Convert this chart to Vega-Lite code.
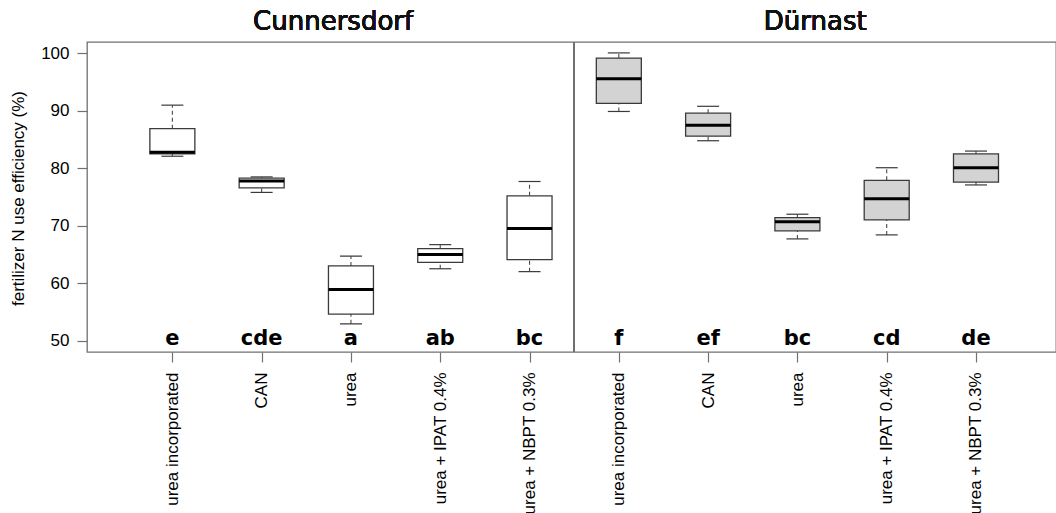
{
  "$schema": "https://vega.github.io/schema/vega-lite/v6.json",
  "autosize": "none",
  "padding": {"left": 87, "top": 42, "right": 0, "bottom": 161},
  "width": 969,
  "height": 310,
  "background": "white",
  "config": {
    "view": {"stroke": "#707070", "strokeWidth": 1.3},
    "font": "Liberation Sans",
    "axis": {"grid": false, "domain": false, "tickColor": "#707070", "tickWidth": 1.2, "labelColor": "black", "titleColor": "black", "labelFont": "Liberation Sans", "titleFont": "Liberation Sans", "titleFontWeight": "normal"}
  },
  "data": {"values": [
    {"site": "Cunnersdorf", "treatment": "urea incorporated", "pos": 1, "lo": 82.1, "q1": 82.5, "med": 82.8, "q3": 86.9, "hi": 91.0, "letter": "e"},
    {"site": "Cunnersdorf", "treatment": "CAN", "pos": 2, "lo": 75.8, "q1": 76.6, "med": 77.8, "q3": 78.3, "hi": 78.5, "letter": "cde"},
    {"site": "Cunnersdorf", "treatment": "urea", "pos": 3, "lo": 52.9, "q1": 54.6, "med": 58.9, "q3": 63.0, "hi": 64.7, "letter": "a"},
    {"site": "Cunnersdorf", "treatment": "urea + IPAT 0.4%", "pos": 4, "lo": 62.5, "q1": 63.6, "med": 65.0, "q3": 66.0, "hi": 66.7, "letter": "ab"},
    {"site": "Cunnersdorf", "treatment": "urea + NBPT 0.3%", "pos": 5, "lo": 62.0, "q1": 64.1, "med": 69.5, "q3": 75.2, "hi": 77.7, "letter": "bc"},
    {"site": "Dürnast", "treatment": "urea incorporated", "pos": 6, "lo": 89.9, "q1": 91.3, "med": 95.6, "q3": 99.2, "hi": 100.1, "letter": "f"},
    {"site": "Dürnast", "treatment": "CAN", "pos": 7, "lo": 84.8, "q1": 85.6, "med": 87.5, "q3": 89.6, "hi": 90.8, "letter": "ef"},
    {"site": "Dürnast", "treatment": "urea", "pos": 8, "lo": 67.7, "q1": 69.1, "med": 70.7, "q3": 71.4, "hi": 72.0, "letter": "bc"},
    {"site": "Dürnast", "treatment": "urea + IPAT 0.4%", "pos": 9, "lo": 68.4, "q1": 71.0, "med": 74.7, "q3": 77.9, "hi": 80.1, "letter": "cd"},
    {"site": "Dürnast", "treatment": "urea + NBPT 0.3%", "pos": 10, "lo": 77.1, "q1": 77.6, "med": 80.1, "q3": 82.5, "hi": 83.0, "letter": "de"}
  ]},
  "layer": [
    {
      "mark": {"type": "rule", "strokeDash": [4, 3], "color": "#4a4a4a", "strokeWidth": 1.1},
      "encoding": {
        "x": {"field": "pos", "type": "quantitative",
          "scale": {"domain": [0.1, 10.84], "nice": false, "zero": false},
          "axis": {"values": [1, 2, 3, 4, 5, 6, 7, 8, 9, 10], "title": null, "tickSize": 10, "labelAngle": -90, "labelPadding": 10, "labelFontSize": 17, "labelExpr": "['urea incorporated','CAN','urea','urea + IPAT 0.4%','urea + NBPT 0.3%'][(datum.value - 1) % 5]"}},
        "y": {"field": "lo", "type": "quantitative",
          "scale": {"domain": [48, 102], "nice": false, "zero": false},
          "axis": {"values": [50, 60, 70, 80, 90, 100], "title": "fertilizer N use efficiency (%)", "tickSize": 10, "labelPadding": 8, "labelFontSize": 17, "titleFontSize": 17, "titleX": -60, "titleY": 156}},
        "y2": {"field": "q1"}
      }
    },
    {
      "mark": {"type": "rule", "strokeDash": [4, 3], "color": "#4a4a4a", "strokeWidth": 1.1},
      "encoding": {
        "x": {"field": "pos", "type": "quantitative"},
        "y": {"field": "q3", "type": "quantitative"},
        "y2": {"field": "hi"}
      }
    },
    {
      "mark": {"type": "tick", "orient": "horizontal", "size": 22, "thickness": 1.2, "color": "#3a3a3a", "opacity": 1},
      "encoding": {
        "x": {"field": "pos", "type": "quantitative"},
        "y": {"field": "lo", "type": "quantitative"}
      }
    },
    {
      "mark": {"type": "tick", "orient": "horizontal", "size": 22, "thickness": 1.2, "color": "#3a3a3a", "opacity": 1},
      "encoding": {
        "x": {"field": "pos", "type": "quantitative"},
        "y": {"field": "hi", "type": "quantitative"}
      }
    },
    {
      "mark": {"type": "bar", "orient": "vertical", "size": 45, "stroke": "#3a3a3a", "strokeWidth": 1.3, "opacity": 1},
      "encoding": {
        "x": {"field": "pos", "type": "quantitative"},
        "y": {"field": "q1", "type": "quantitative"},
        "y2": {"field": "q3"},
        "fill": {"field": "site", "type": "nominal", "legend": null,
          "scale": {"domain": ["Cunnersdorf", "Dürnast"], "range": ["#ffffff", "#d3d3d3"]}}
      }
    },
    {
      "mark": {"type": "tick", "orient": "horizontal", "size": 45, "thickness": 3, "color": "black", "opacity": 1},
      "encoding": {
        "x": {"field": "pos", "type": "quantitative"},
        "y": {"field": "med", "type": "quantitative"}
      }
    },
    {
      "mark": {"type": "text", "font": "DejaVu Sans", "fontWeight": "bold", "fontSize": 21, "baseline": "alphabetic", "align": "center", "color": "black"},
      "encoding": {
        "x": {"field": "pos", "type": "quantitative"},
        "y": {"datum": 49.25},
        "text": {"field": "letter"}
      }
    },
    {
      "mark": {"type": "rule", "color": "#707070", "strokeWidth": 1.3},
      "encoding": {"x": {"datum": 5.5}}
    },
    {
      "mark": {"type": "text", "font": "DejaVu Sans", "fontWeight": "normal", "fontSize": 26, "baseline": "alphabetic", "align": "center", "color": "#111111"},
      "encoding": {"x": {"datum": 2.8}, "y": {"datum": 104.1}, "text": {"value": "Cunnersdorf"}}
    },
    {
      "mark": {"type": "text", "font": "DejaVu Sans", "fontWeight": "normal", "fontSize": 26, "baseline": "alphabetic", "align": "center", "color": "#111111"},
      "encoding": {"x": {"datum": 8.2}, "y": {"datum": 104.1}, "text": {"value": "Dürnast"}}
    }
  ]
}
